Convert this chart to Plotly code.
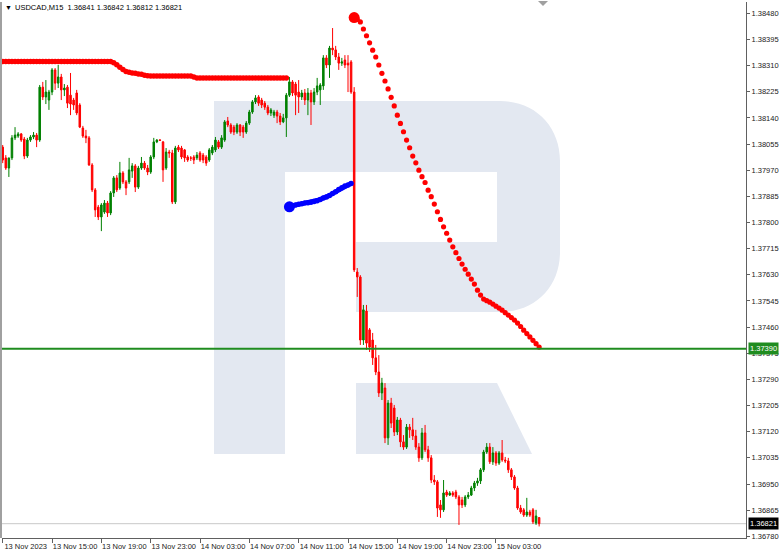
import plotly.graph_objects as go

# ---------------- data ----------------
time_ticks = [0, 16, 32, 48, 64, 80, 96, 112, 128, 144, 160]
time_labels = ["13 Nov 2023", "13 Nov 15:00", "13 Nov 19:00", "13 Nov 23:00",
               "14 Nov 03:00", "14 Nov 07:00", "14 Nov 11:00", "14 Nov 15:00",
               "14 Nov 19:00", "14 Nov 23:00", "15 Nov 03:00"]

price_ticks = ["1.36780", "1.36865", "1.36950", "1.37035", "1.37120", "1.37205",
               "1.37290", "1.37375", "1.37460", "1.37545", "1.37630", "1.37715",
               "1.37800", "1.37885", "1.37970", "1.38055", "1.38140", "1.38225",
               "1.38310", "1.38395", "1.38480"]

opens = [1.38045, 1.38010, 1.37977, 1.38010, 1.38075, 1.38081, 1.38088, 1.38071, 1.38016, 1.38068,
         1.38078, 1.38084, 1.38068, 1.38240, 1.38208, 1.38198, 1.38224, 1.38296, 1.38253, 1.38273,
         1.38231, 1.38240, 1.38214, 1.38198, 1.38221, 1.38182, 1.38107, 1.38081, 1.38075, 1.37987,
         1.37906, 1.37850, 1.37818, 1.37834, 1.37863, 1.37831, 1.37896, 1.37945, 1.37912, 1.37961,
         1.37932, 1.37932, 1.37967, 1.37984, 1.37915, 1.37977, 1.37993, 1.37977, 1.37964, 1.38013,
         1.38062, 1.38068, 1.38062, 1.37977, 1.38029, 1.38026, 1.37867, 1.38045, 1.38042, 1.38036,
         1.38013, 1.38010, 1.38013, 1.38010, 1.38026, 1.38019, 1.38013, 1.38003, 1.38026, 1.38036,
         1.38062, 1.38045, 1.38068, 1.38130, 1.38117, 1.38110, 1.38094, 1.38117, 1.38110, 1.38094,
         1.38123, 1.38159, 1.38192, 1.38208, 1.38198, 1.38188, 1.38175, 1.38156, 1.38149, 1.38159,
         1.38146, 1.38127, 1.38140, 1.38214, 1.38257, 1.38250, 1.38224, 1.38208, 1.38221, 1.38198,
         1.38221, 1.38192, 1.38224, 1.38231, 1.38244, 1.38335, 1.38312, 1.38367, 1.38361, 1.38338,
         1.38318, 1.38328, 1.38318, 1.38322, 1.38224, 1.37639, 1.37623, 1.37418, 1.37512, 1.37451,
         1.37418, 1.37360, 1.37314, 1.37246, 1.37262, 1.37100, 1.37213, 1.37197, 1.37119, 1.37158,
         1.37087, 1.37070, 1.37135, 1.37126, 1.37106, 1.37070, 1.37035, 1.37116, 1.37061, 1.37035,
         1.36963, 1.36957, 1.36882, 1.36866, 1.36924, 1.36914, 1.36921, 1.36924, 1.36908, 1.36898,
         1.36882, 1.36908, 1.36914, 1.36937, 1.36953, 1.36960, 1.36996, 1.37054, 1.37070, 1.37022,
         1.37051, 1.37018, 1.37051, 1.37028, 1.37025, 1.36996, 1.36973, 1.36937, 1.36872, 1.36866,
         1.36849, 1.36859, 1.36866, 1.36823, 1.36841]

highs = [1.38052, 1.38019, 1.38010, 1.38084, 1.38110, 1.38094, 1.38091, 1.38078, 1.38075, 1.38084,
         1.38094, 1.38091, 1.38247, 1.38257, 1.38263, 1.38231, 1.38302, 1.38302, 1.38312, 1.38283,
         1.38250, 1.38247, 1.38286, 1.38205, 1.38231, 1.38188, 1.38114, 1.38101, 1.38081, 1.37993,
         1.37912, 1.37857, 1.37863, 1.37873, 1.37870, 1.37902, 1.37951, 1.37954, 1.37997, 1.37967,
         1.37938, 1.38010, 1.37993, 1.37990, 1.37984, 1.38013, 1.38000, 1.37987, 1.38019, 1.38075,
         1.38071, 1.38071, 1.38065, 1.38042, 1.38036, 1.38036, 1.38049, 1.38052, 1.38049, 1.38039,
         1.38019, 1.38016, 1.38019, 1.38029, 1.38032, 1.38026, 1.38019, 1.38042, 1.38052, 1.38078,
         1.38068, 1.38084, 1.38133, 1.38143, 1.38123, 1.38117, 1.38123, 1.38120, 1.38117, 1.38130,
         1.38166, 1.38198, 1.38214, 1.38214, 1.38205, 1.38195, 1.38182, 1.38172, 1.38166, 1.38166,
         1.38156, 1.38153, 1.38221, 1.38273, 1.38263, 1.38257, 1.38263, 1.38231, 1.38234, 1.38237,
         1.38231, 1.38237, 1.38270, 1.38253, 1.38344, 1.38344, 1.38374, 1.38432, 1.38374, 1.38351,
         1.38335, 1.38344, 1.38344, 1.38328, 1.38240, 1.37652, 1.37629, 1.37532, 1.37532, 1.37457,
         1.37441, 1.37402, 1.37369, 1.37295, 1.37278, 1.37223, 1.37230, 1.37207, 1.37168, 1.37165,
         1.37109, 1.37145, 1.37145, 1.37165, 1.37126, 1.37083, 1.37132, 1.37142, 1.37074, 1.37044,
         1.36979, 1.36963, 1.36898, 1.36963, 1.36931, 1.36927, 1.36927, 1.36931, 1.36914, 1.36908,
         1.36914, 1.36924, 1.36944, 1.36960, 1.36970, 1.37002, 1.37061, 1.37083, 1.37083, 1.37070,
         1.37057, 1.37057, 1.37093, 1.37038, 1.37035, 1.37002, 1.36979, 1.36944, 1.36882, 1.36872,
         1.36905, 1.36866, 1.36872, 1.36866, 1.36842]

lows = [1.37993, 1.37971, 1.37948, 1.38003, 1.38068, 1.38075, 1.38062, 1.38006, 1.38010, 1.38062,
        1.38071, 1.38045, 1.38062, 1.38198, 1.38185, 1.38166, 1.38214, 1.38231, 1.38237, 1.38198,
        1.38211, 1.38172, 1.38149, 1.38166, 1.38149, 1.38107, 1.38075, 1.38058, 1.37984, 1.37899,
        1.37818, 1.37808, 1.37772, 1.37828, 1.37818, 1.37824, 1.37883, 1.37899, 1.37906, 1.37925,
        1.37889, 1.37925, 1.37945, 1.37899, 1.37909, 1.37971, 1.37971, 1.37954, 1.37958, 1.38006,
        1.38058, 1.38065, 1.37932, 1.37971, 1.38010, 1.37860, 1.37860, 1.38029, 1.38006, 1.37997,
        1.37997, 1.38000, 1.37990, 1.38003, 1.37997, 1.37993, 1.37984, 1.37997, 1.38019, 1.38029,
        1.38039, 1.38039, 1.38062, 1.38110, 1.38088, 1.38084, 1.38088, 1.38081, 1.38075, 1.38088,
        1.38117, 1.38153, 1.38185, 1.38179, 1.38172, 1.38166, 1.38149, 1.38146, 1.38140, 1.38123,
        1.38117, 1.38123, 1.38078, 1.38208, 1.38211, 1.38149, 1.38156, 1.38198, 1.38182, 1.38149,
        1.38117, 1.38182, 1.38214, 1.38182, 1.38231, 1.38302, 1.38270, 1.38344, 1.38328, 1.38296,
        1.38309, 1.38302, 1.38224, 1.38218, 1.37639, 1.37558, 1.37402, 1.37402, 1.37386, 1.37379,
        1.37337, 1.37304, 1.37233, 1.37223, 1.37083, 1.37077, 1.37132, 1.37106, 1.37109, 1.37070,
        1.37061, 1.37064, 1.37100, 1.37093, 1.37061, 1.37022, 1.37028, 1.37054, 1.37022, 1.36953,
        1.36947, 1.36843, 1.36840, 1.36859, 1.36908, 1.36911, 1.36908, 1.36901, 1.36817, 1.36872,
        1.36875, 1.36901, 1.36911, 1.36927, 1.36944, 1.36950, 1.36989, 1.37048, 1.37015, 1.37012,
        1.37009, 1.37012, 1.37022, 1.37018, 1.36986, 1.36963, 1.36931, 1.36866, 1.36853, 1.36843,
        1.36843, 1.36843, 1.36820, 1.36817, 1.36812]

closes = [1.38003, 1.37977, 1.38010, 1.38075, 1.38084, 1.38088, 1.38068, 1.38016, 1.38068, 1.38078,
          1.38084, 1.38068, 1.38240, 1.38208, 1.38224, 1.38224, 1.38296, 1.38253, 1.38273, 1.38231,
          1.38237, 1.38188, 1.38185, 1.38182, 1.38156, 1.38110, 1.38081, 1.38075, 1.37987, 1.37906,
          1.37841, 1.37818, 1.37857, 1.37863, 1.37831, 1.37896, 1.37945, 1.37906, 1.37961, 1.37932,
          1.37912, 1.37971, 1.37984, 1.37915, 1.37977, 1.37993, 1.37977, 1.37964, 1.38013, 1.38062,
          1.38068, 1.38067, 1.37971, 1.38029, 1.38026, 1.37867, 1.38042, 1.38036, 1.38013, 1.38010,
          1.38003, 1.38009, 1.38003, 1.38019, 1.38003, 1.38003, 1.37993, 1.38036, 1.38045, 1.38068,
          1.38045, 1.38075, 1.38127, 1.38117, 1.38094, 1.38094, 1.38117, 1.38094, 1.38094, 1.38123,
          1.38159, 1.38192, 1.38205, 1.38188, 1.38182, 1.38175, 1.38156, 1.38166, 1.38159, 1.38146,
          1.38127, 1.38140, 1.38214, 1.38257, 1.38221, 1.38214, 1.38208, 1.38221, 1.38198, 1.38221,
          1.38192, 1.38224, 1.38244, 1.38247, 1.38335, 1.38312, 1.38367, 1.38361, 1.38338, 1.38318,
          1.38322, 1.38312, 1.38312, 1.38224, 1.37646, 1.37623, 1.37418, 1.37516, 1.37408, 1.37395,
          1.37360, 1.37314, 1.37246, 1.37278, 1.37100, 1.37213, 1.37148, 1.37119, 1.37158, 1.37087,
          1.37070, 1.37135, 1.37126, 1.37106, 1.37070, 1.37035, 1.37116, 1.37061, 1.37035, 1.36963,
          1.36957, 1.36872, 1.36866, 1.36921, 1.36914, 1.36921, 1.36914, 1.36908, 1.36882, 1.36882,
          1.36908, 1.36914, 1.36937, 1.36953, 1.36960, 1.36996, 1.37054, 1.37070, 1.37022, 1.37051,
          1.37018, 1.37051, 1.37028, 1.37025, 1.36996, 1.36973, 1.36937, 1.36872, 1.36859, 1.36849,
          1.36859, 1.36849, 1.36827, 1.36846, 1.36821]

# thick red moving-average line (bars 0..92)
ma_values = [1.38323, 1.38323, 1.38323, 1.38323, 1.38323, 1.38323, 1.38323, 1.38323, 1.38323, 1.38323,
             1.38323, 1.38323, 1.38323, 1.38323, 1.38323, 1.38323, 1.38323, 1.38323, 1.38323, 1.38323,
             1.38323, 1.38323, 1.38323, 1.38323, 1.38323, 1.38323, 1.38323, 1.38323, 1.38323, 1.38323,
             1.38323, 1.38323, 1.38323, 1.38323, 1.38323, 1.38323, 1.38319, 1.38313, 1.38305, 1.38297,
             1.38291, 1.38288, 1.38286, 1.38285, 1.38283, 1.38282, 1.38279, 1.38277, 1.38276, 1.38276,
             1.38276, 1.38276, 1.38276, 1.38276, 1.38276, 1.38276, 1.38276, 1.38276, 1.38276, 1.38276,
             1.38276, 1.38276, 1.38273, 1.38270, 1.38270, 1.38270, 1.38270, 1.38270, 1.38270, 1.38270,
             1.38270, 1.38270, 1.38270, 1.38270, 1.38270, 1.38270, 1.38270, 1.38270, 1.38270, 1.38270,
             1.38270, 1.38270, 1.38270, 1.38270, 1.38270, 1.38270, 1.38270, 1.38270, 1.38270, 1.38270,
             1.38270, 1.38270, 1.38270]
ma_start = 0

# blue line (bars 93..113)
blue_values = [1.37851, 1.37855, 1.37857, 1.37859, 1.37861, 1.37863, 1.37864, 1.37866, 1.37868, 1.37871,
               1.37875, 1.37880, 1.37883, 1.37888, 1.37894, 1.37900, 1.37907, 1.37913, 1.37919, 1.37922,
               1.37927]
blue_start = 93

# red dotted projection (bars 114..174)
proj_values = [1.38466, 1.38460, 1.38452, 1.38429, 1.38407, 1.38384, 1.38360, 1.38338, 1.38312, 1.38285,
               1.38260, 1.38234, 1.38207, 1.38179, 1.38149, 1.38122, 1.38095, 1.38068, 1.38043, 1.38016,
               1.37994, 1.37970, 1.37949, 1.37930, 1.37905, 1.37884, 1.37860, 1.37835, 1.37810, 1.37786,
               1.37765, 1.37743, 1.37721, 1.37702, 1.37683, 1.37665, 1.37648, 1.37632, 1.37616, 1.37600,
               1.37580, 1.37564, 1.37551, 1.37546, 1.37541, 1.37535, 1.37528, 1.37522, 1.37515, 1.37507,
               1.37499, 1.37491, 1.37483, 1.37473, 1.37462, 1.37450, 1.37439, 1.37428, 1.37417, 1.37406,
               1.37395]
proj_start = 114

level_price = 1.37390
bid_price = 1.36821
header_text = "USDCAD,M15  1.36841 1.36842 1.36812 1.36821"

# ---------------- geometry helpers (layout only) ----------------
W, H = 782, 555
PL, PR, PT, PB = 2, 746, 2, 538   # plot area in pixels


def px(x):
    return (x - PL) / (PR - PL)


def py(y):
    return (PB - y) / (PB - PT)


def path(points_cmds):
    out = []
    for cmd, pts in points_cmds:
        coords = " ".join(f"{px(a):.5f},{py(b):.5f}" for a, b in pts)
        out.append(f"{cmd}{coords}")
    return " ".join(out) + " Z"


bars = list(range(len(opens)))
no_outline = dict(width=0)

fig = go.Figure()

fig.add_trace(go.Candlestick(
    x=bars, open=opens, high=highs, low=lows, close=closes,
    increasing=dict(line=dict(color="#008000", width=1), fillcolor="#008000"),
    decreasing=dict(line=dict(color="#ff0000", width=1), fillcolor="#ff0000"),
    whiskerwidth=0, hoverinfo="skip", name="USDCAD"))

fig.add_trace(go.Scatter(
    x=list(range(ma_start, ma_start + len(ma_values))), y=ma_values,
    mode="markers", marker=dict(color="#ff0000", size=5.5, opacity=1, line=no_outline),
    hoverinfo="skip"))

fig.add_trace(go.Scatter(
    x=list(range(blue_start, blue_start + len(blue_values))), y=blue_values,
    mode="lines+markers", line=dict(color="#0000ff", width=4.5),
    marker=dict(color="#0000ff", opacity=1, line=no_outline,
                size=[11] + [5.5] * (len(blue_values) - 1)),
    hoverinfo="skip"))

fig.add_trace(go.Scatter(
    x=list(range(proj_start, proj_start + len(proj_values))), y=proj_values,
    mode="markers",
    marker=dict(color="#ff0000", opacity=1, line=no_outline,
                size=[11] + [5.2] * (len(proj_values) - 1)),
    hoverinfo="skip"))

shapes = []
wm = "#e3e8f1"
# watermark "R"
shapes.append(dict(type="path", xref="paper", yref="paper", layer="below",
                   fillcolor=wm, line=dict(width=0),
                   path=path([("M", [(214, 101)]), ("L", [(500, 101)]),
                              ("C", [(535, 101), (560, 126), (560, 161)]),
                              ("L", [(560, 252)]),
                              ("C", [(560, 287), (535, 312), (500, 312)]),
                              ("L", [(356, 312)]), ("L", [(356, 242)]), ("L", [(497, 242)]),
                              ("L", [(497, 172)]), ("L", [(285, 172)]), ("L", [(285, 454)]),
                              ("L", [(214, 454)])])))
shapes.append(dict(type="path", xref="paper", yref="paper", layer="below",
                   fillcolor=wm, line=dict(width=0),
                   path=path([("M", [(356, 383)]), ("L", [(497, 383)]), ("L", [(532, 454)]),
                              ("L", [(356, 454)])])))
# bid line and support level
shapes.append(dict(type="line", xref="paper", yref="y", x0=0, x1=1, y0=bid_price, y1=bid_price,
                   line=dict(color="#c8c8c8", width=1), layer="below"))
shapes.append(dict(type="line", xref="paper", yref="y", x0=0, x1=1, y0=level_price, y1=level_price,
                   line=dict(color="#1f8c1f", width=2)))
# left frame bar
shapes.append(dict(type="rect", xref="paper", yref="paper", x0=px(0), x1=px(2), y0=0, y1=1,
                   fillcolor="#a0a0a0", line=dict(width=0)))
# chart shift marker
shapes.append(dict(type="path", xref="paper", yref="paper",
                   fillcolor="#a0a0a0", line=dict(width=0),
                   path=path([("M", [(538, 1)]), ("L", [(548, 1)]), ("L", [(543, 6)])])))

annotations = [
    dict(xref="paper", yref="paper", x=px(3), y=py(8), xanchor="left", yanchor="middle",
         text="▼", showarrow=False, font=dict(size=7, color="#000000", family="Liberation Sans")),
    dict(xref="paper", yref="paper", x=px(13), y=py(8), xanchor="left", yanchor="middle",
         text=header_text, showarrow=False,
         font=dict(size=7.5, color="#000000", family="Liberation Sans")),
    dict(xref="paper", yref="y", x=px(748), y=level_price, xanchor="left", yanchor="middle",
         text=f"{level_price:.5f}", showarrow=False, bgcolor="#1f8c1f", borderpad=1,
         font=dict(size=7.5, color="#ffffff", family="Liberation Sans")),
    dict(xref="paper", yref="y", x=px(748), y=bid_price, xanchor="left", yanchor="middle",
         text=f"{bid_price:.5f}", showarrow=False, bgcolor="#000000", borderpad=1,
         font=dict(size=7.5, color="#ffffff", family="Liberation Sans")),
]

fig.update_layout(
    width=W, height=H,
    margin=dict(l=PL, r=W - PR, t=PT, b=H - PB),
    paper_bgcolor="#ffffff", plot_bgcolor="#ffffff",
    showlegend=False,
    shapes=shapes, annotations=annotations,
    font=dict(family="Liberation Sans", size=7.5, color="#1a1a1a"),
    xaxis=dict(range=[-0.23, 241.1], rangeslider=dict(visible=False),
               showgrid=False, zeroline=False, showline=True, linecolor="#606060", linewidth=1,
               ticks="outside", ticklen=4, tickcolor="#606060",
               tickvals=time_ticks, ticktext=time_labels, ticklabelshift=23,
               ticklabelstandoff=-3,
               tickfont=dict(size=7.5, color="#1a1a1a")),
    yaxis=dict(side="right", range=[1.367745, 1.385167],
               showgrid=False, zeroline=False, showline=True, linecolor="#606060", linewidth=1,
               ticks="outside", ticklen=3, tickcolor="#606060",
               tickvals=[float(t) for t in price_ticks], ticktext=price_ticks,
               tickfont=dict(size=7.5, color="#1a1a1a")),
)

fig.write_html("out.html", config={"displayModeBar": False},
               post_script="document.body.style.margin='0';")
